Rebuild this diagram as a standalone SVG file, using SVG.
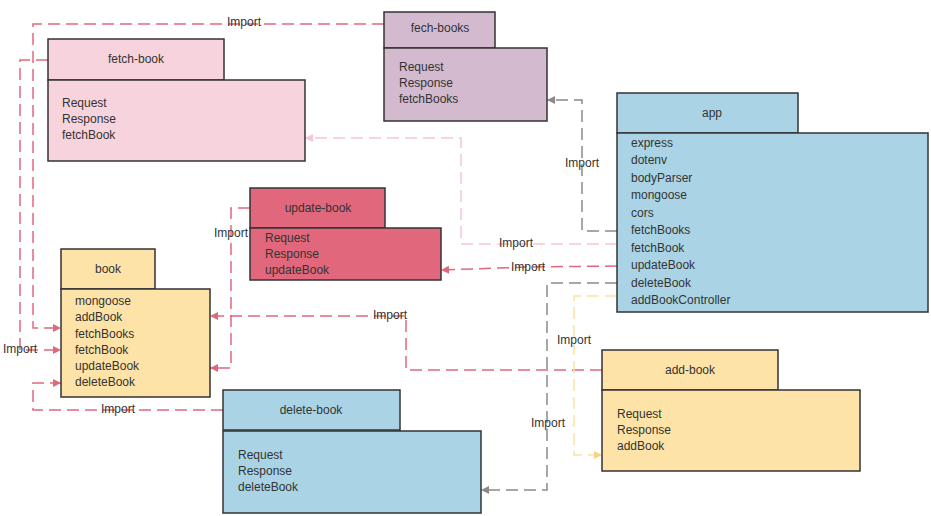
<svg xmlns="http://www.w3.org/2000/svg" width="931" height="516" viewBox="0 0 931 516">
<style>
.box{stroke:#333;stroke-width:1.5}
.t{font-family:"Liberation Sans",Arial,sans-serif;font-size:12px;fill:#333}
.c{text-anchor:middle}
.l{font-family:"Liberation Sans",Arial,sans-serif;font-size:12px;fill:#333;text-anchor:middle}
.e{fill:none;stroke-width:1.5;stroke-dasharray:12 6}
.red{stroke:#e0687e}
.pk{stroke:#f6c6d2}
.gr{stroke:#8a8a8a}
.yl{stroke:#fde2a0}
</style>
<defs>
<marker id="aRed" viewBox="0 0 10 10" refX="10" refY="5" markerWidth="10" markerHeight="8" orient="auto" markerUnits="userSpaceOnUse"><path d="M0,0L10,5L0,10z" fill="#e0687e"/></marker>
<marker id="aPk" viewBox="0 0 10 10" refX="10" refY="5" markerWidth="10" markerHeight="8" orient="auto" markerUnits="userSpaceOnUse"><path d="M0,0L10,5L0,10z" fill="#f6c6d2"/></marker>
<marker id="aGr" viewBox="0 0 10 10" refX="10" refY="5" markerWidth="10" markerHeight="8" orient="auto" markerUnits="userSpaceOnUse"><path d="M0,0L10,5L0,10z" fill="#8a8a8a"/></marker>
<marker id="aYl" viewBox="0 0 10 10" refX="10" refY="5" markerWidth="10" markerHeight="8" orient="auto" markerUnits="userSpaceOnUse"><path d="M0,0L10,5L0,10z" fill="#f9d08a"/></marker>
</defs>
<rect width="931" height="516" fill="#fff"/>
<g id="connectors">
<path class="e red" d="M384,24H33V328H61" marker-end="url(#aRed)"/>
<path class="e red" d="M223,410H33V383H61" marker-end="url(#aRed)"/>
<path class="e red" d="M48,60H20V350H61" marker-end="url(#aRed)"/>
<path class="e red" d="M250,208H231V368H210" marker-end="url(#aRed)"/>
<path class="e red" d="M602,370H406V316H210" marker-end="url(#aRed)"/>
<path class="e gr" d="M617,231H582V100H547" marker-end="url(#aGr)"/>
<path class="e pk" d="M617,244H461V138H305" marker-end="url(#aPk)"/>
<path class="e red" d="M617,266L530,267L441,270" marker-end="url(#aRed)"/>
<path class="e gr" d="M617,283H547V490H481" marker-end="url(#aGr)"/>
<path class="e yl" d="M617,296H574V455H602" marker-end="url(#aYl)"/>
<text class="l" x="244" y="26">Import</text>
<text class="l" x="118" y="413">Import</text>
<text class="l" x="20" y="353">Import</text>
<text class="l" x="231" y="237">Import</text>
<text class="l" x="390" y="319">Import</text>
<text class="l" x="582" y="167">Import</text>
<text class="l" x="516" y="247">Import</text>
<text class="l" x="528" y="271">Import</text>
<text class="l" x="548" y="427">Import</text>
<text class="l" x="574" y="344">Import</text>
</g>
<g id="fetch-book">
<rect class="box" x="48" y="39" width="176" height="41" fill="#f7d3dd"/>
<rect class="box" x="48" y="80" width="257" height="81" fill="#f7d3dd"/>
<text class="t c" x="136" y="63">fetch-book</text>
<text class="t" x="62" y="107">Request</text>
<text class="t" x="62" y="123">Response</text>
<text class="t" x="62" y="139">fetchBook</text>
</g>
<g id="fech-books">
<rect class="box" x="384" y="12" width="111" height="36" fill="#d4bacf"/>
<rect class="box" x="384" y="48" width="163" height="73" fill="#d4bacf"/>
<text class="t c" x="440" y="32">fech-books</text>
<text class="t" x="399" y="71">Request</text>
<text class="t" x="399" y="87">Response</text>
<text class="t" x="399" y="103">fetchBooks</text>
</g>
<g id="app">
<rect class="box" x="617" y="93" width="181" height="40" fill="#aad4e5"/>
<rect class="box" x="617" y="133" width="311" height="179" fill="#aad4e5"/>
<text class="t c" x="712" y="117">app</text>
<text class="t" x="631" y="147">express</text>
<text class="t" x="631" y="164">dotenv</text>
<text class="t" x="631" y="182">bodyParser</text>
<text class="t" x="631" y="199">mongoose</text>
<text class="t" x="631" y="217">cors</text>
<text class="t" x="631" y="234">fetchBooks</text>
<text class="t" x="631" y="252">fetchBook</text>
<text class="t" x="631" y="269">updateBook</text>
<text class="t" x="631" y="287">deleteBook</text>
<text class="t" x="631" y="304">addBookController</text>
</g>
<g id="update-book">
<rect class="box" x="250" y="188" width="135" height="40" fill="#e0677c"/>
<rect class="box" x="250" y="228" width="191" height="52" fill="#e0677c"/>
<text class="t c" x="318" y="212">update-book</text>
<text class="t" x="265" y="242">Request</text>
<text class="t" x="265" y="258">Response</text>
<text class="t" x="265" y="274">updateBook</text>
</g>
<g id="book">
<rect class="box" x="61" y="249" width="94" height="40" fill="#fde3a8"/>
<rect class="box" x="61" y="289" width="149" height="108" fill="#fde3a8"/>
<text class="t c" x="108" y="273">book</text>
<text class="t" x="75" y="305">mongoose</text>
<text class="t" x="75" y="321">addBook</text>
<text class="t" x="75" y="338">fetchBooks</text>
<text class="t" x="75" y="354">fetchBook</text>
<text class="t" x="75" y="370">updateBook</text>
<text class="t" x="75" y="386">deleteBook</text>
</g>
<g id="add-book">
<rect class="box" x="602" y="350" width="176" height="40" fill="#fde3a8"/>
<rect class="box" x="602" y="390" width="258" height="81" fill="#fde3a8"/>
<text class="t c" x="690" y="374">add-book</text>
<text class="t" x="617" y="418">Request</text>
<text class="t" x="617" y="434">Response</text>
<text class="t" x="617" y="450">addBook</text>
</g>
<g id="delete-book">
<rect class="box" x="223" y="390" width="177" height="40" fill="#aad4e5"/>
<rect class="box" x="223" y="431" width="258" height="82" fill="#aad4e5"/>
<text class="t c" x="311" y="414">delete-book</text>
<text class="t" x="238" y="459">Request</text>
<text class="t" x="238" y="475">Response</text>
<text class="t" x="238" y="491">deleteBook</text>
</g>
</svg>
